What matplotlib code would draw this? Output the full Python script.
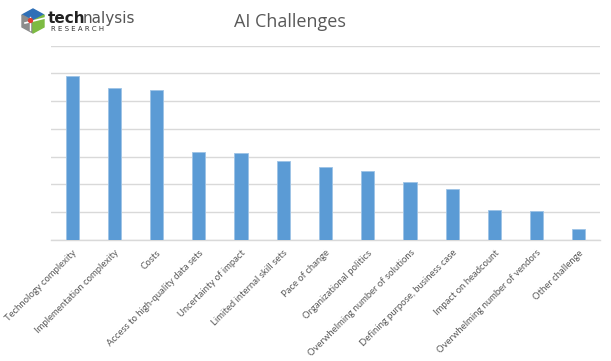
import matplotlib.pyplot as plt
from matplotlib.patches import Polygon
import numpy as np

categories = [
    "Technology complexity", "Implementation complexity", "Costs",
    "Access to high-quality data sets", "Uncertainty of impact",
    "Limited internal skill sets", "Pace of change", "Organizational politics",
    "Overwhelming number of solutions", "Defining purpose, business case",
    "Impact on headcount", "Overwhelming number of vendors", "Other challenge",
]
values = [29.6, 27.3, 27.0, 15.8, 15.6, 14.2, 13.1, 12.5, 10.5, 9.1, 5.4, 5.3, 1.9]
grid_ticks = [0, 5, 10, 15, 20, 25, 30, 35]

W, H = 611, 361
fig = plt.figure(figsize=(W / 100, H / 100), dpi=100)
fig.patch.set_facecolor("white")

# plot area in pixel coordinates
left, right, top, bottom = 51, 600, 45.7, 240
ax = fig.add_axes([left / W, 1 - bottom / H, (right - left) / W, (bottom - top) / H])

x = np.arange(len(categories))
ax.bar(x, values, width=0.31, color="#5b9bd5", edgecolor="#9dc3e6", linewidth=0.6, zorder=3)
ax.set_xlim(-0.5, len(categories) - 0.5)
ax.set_ylim(grid_ticks[0], grid_ticks[-1])
ax.set_yticks(grid_ticks)
ax.yaxis.grid(True, color="#d9d9d9", linewidth=1.0, zorder=0)
ax.tick_params(axis="y", length=0, labelleft=False)
ax.tick_params(axis="x", length=0, pad=6)
for s in ["left", "right", "top"]:
    ax.spines[s].set_visible(False)
ax.spines["bottom"].set_color("#d9d9d9")
ax.spines["bottom"].set_linewidth(1.0)
ax.set_xticks(x)
ax.set_xticklabels(categories, rotation=45, ha="right", rotation_mode="anchor",
                   fontsize=6.8, color="#595959", family="Lato")

# title
fig.text(290 / W, 1 - 22 / H, "AI Challenges", ha="center", va="center",
         fontsize=13, color="#595959", family="Open Sans")

# logo
lax = fig.add_axes([0, 0, 1, 1], facecolor="none")
lax.set_xlim(0, W)
lax.set_ylim(H, 0)
lax.axis("off")
cx, cy = 33, 21
lax.add_patch(Polygon([(cx - 11, cy - 6), (cx, cy - 12), (cx + 11, cy - 6), (cx, cy)],
                      closed=True, color="#2e6fb7"))
lax.add_patch(Polygon([(cx - 11, cy - 6), (cx, cy), (cx, cy + 12), (cx - 11, cy + 6)],
                      closed=True, color="#8c8c8c"))
lax.add_patch(Polygon([(cx, cy), (cx + 11, cy - 6), (cx + 11, cy + 6), (cx, cy + 12)],
                      closed=True, color="#7dbb42"))
lax.plot([cx - 8, cx + 12], [cy + 2, cy - 3], color="white", linewidth=1.2)
lax.plot([cx - 3, cx - 3], [cy - 4, cy + 9], color="white", linewidth=1.0)
lax.scatter([cx - 3], [cy - 1], s=8, color="#e03c31", zorder=5)

t1 = lax.text(48, 23, "tech", fontsize=11, fontweight="bold", color="#222222",
              family="DejaVu Sans", va="baseline", ha="left")
fig.canvas.draw()
bb = t1.get_window_extent(renderer=fig.canvas.get_renderer())
lax.text(bb.x1 - 3, 23, "nalysis", fontsize=11, color="#555555",
         family="DejaVu Sans", va="baseline", ha="left")
lax.text(51, 31, "R E S E A R C H", fontsize=5, color="#333333",
         family="DejaVu Sans", va="baseline", ha="left")

fig.savefig("out.png", dpi=100, facecolor="white")
